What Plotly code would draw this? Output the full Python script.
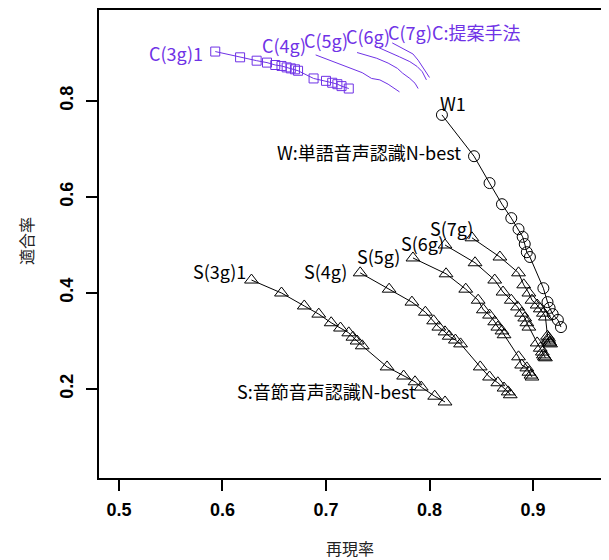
import plotly.graph_objects as go

# ---- data (recall, precision) ----
c3_x = [0.593, 0.617, 0.633, 0.643, 0.651, 0.657, 0.662, 0.666, 0.670, 0.673, 0.688, 0.700, 0.706, 0.711, 0.715, 0.722]
c3_y = [0.903, 0.891, 0.884, 0.880, 0.875, 0.873, 0.870, 0.868, 0.866, 0.863, 0.847, 0.842, 0.838, 0.835, 0.831, 0.826]
c4_x = [0.690, 0.707, 0.723, 0.735, 0.744, 0.752, 0.760, 0.767, 0.771]
c4_y = [0.896, 0.882, 0.868, 0.859, 0.847, 0.844, 0.835, 0.824, 0.819]
c5_x = [0.730, 0.749, 0.760, 0.769, 0.774, 0.781, 0.786, 0.789]
c5_y = [0.901, 0.889, 0.879, 0.868, 0.858, 0.847, 0.837, 0.826]
c6_x = [0.749, 0.760, 0.771, 0.781, 0.788, 0.793, 0.797]
c6_y = [0.913, 0.903, 0.892, 0.882, 0.872, 0.861, 0.844]
c7_x = [0.764, 0.774, 0.784, 0.789, 0.793, 0.798, 0.800]
c7_y = [0.921, 0.910, 0.898, 0.885, 0.872, 0.858, 0.849]

w_x = [0.812, 0.843, 0.858, 0.870, 0.879, 0.886, 0.890, 0.892, 0.894, 0.897, 0.910, 0.914, 0.916, 0.919, 0.924, 0.927]
w_y = [0.771, 0.685, 0.629, 0.585, 0.556, 0.533, 0.517, 0.502, 0.485, 0.475, 0.410, 0.381, 0.369, 0.356, 0.344, 0.329]

s3_x = [0.628, 0.657, 0.679, 0.693, 0.705, 0.714, 0.722, 0.726, 0.730, 0.735, 0.759, 0.775, 0.786, 0.792, 0.805, 0.815]
s3_y = [0.427, 0.400, 0.373, 0.356, 0.338, 0.327, 0.317, 0.308, 0.300, 0.290, 0.246, 0.227, 0.215, 0.204, 0.185, 0.173]
s4_x = [0.733, 0.761, 0.783, 0.796, 0.804, 0.809, 0.815, 0.819, 0.825, 0.830, 0.849, 0.858, 0.866, 0.872, 0.876, 0.878]
s4_y = [0.442, 0.408, 0.381, 0.360, 0.342, 0.329, 0.319, 0.310, 0.302, 0.294, 0.246, 0.225, 0.213, 0.202, 0.194, 0.188]
s5_x = [0.784, 0.816, 0.835, 0.847, 0.852, 0.858, 0.863, 0.866, 0.870, 0.872, 0.886, 0.889, 0.894, 0.896, 0.898, 0.899]
s5_y = [0.473, 0.440, 0.408, 0.385, 0.365, 0.354, 0.340, 0.329, 0.321, 0.313, 0.267, 0.250, 0.244, 0.235, 0.229, 0.225]
s6_x = [0.815, 0.844, 0.863, 0.871, 0.879, 0.885, 0.889, 0.892, 0.894, 0.896, 0.904, 0.907, 0.909, 0.910, 0.911, 0.912]
s6_y = [0.500, 0.463, 0.427, 0.402, 0.385, 0.371, 0.358, 0.348, 0.338, 0.329, 0.296, 0.285, 0.277, 0.271, 0.267, 0.265]
s7_x = [0.841, 0.868, 0.886, 0.891, 0.896, 0.899, 0.904, 0.907, 0.910, 0.912, 0.914, 0.915, 0.915, 0.916, 0.916, 0.917]
s7_y = [0.515, 0.475, 0.442, 0.417, 0.400, 0.385, 0.375, 0.367, 0.358, 0.350, 0.310, 0.306, 0.302, 0.298, 0.296, 0.294]

x_ticks = [0.5, 0.6, 0.7, 0.8, 0.9]
y_ticks = [0.2, 0.4, 0.6, 0.8]

PURPLE = "#6f32e6"
BLACK = "#000000"
FONT = "Noto Sans CJK JP"

fig = go.Figure()

def add_series(x, y, color, symbol=None, size=9):
    mode = "lines+markers" if symbol else "lines"
    fig.add_trace(go.Scatter(
        x=x, y=y, mode=mode,
        line=dict(color=color, width=1),
        marker=dict(symbol=symbol, size=size, color=color, line=dict(width=1, color=color)) if symbol else None,
        showlegend=False, hoverinfo="skip"))

add_series(c3_x, c3_y, PURPLE, "square-open", 9)
for cx, cy in [(c4_x, c4_y), (c5_x, c5_y), (c6_x, c6_y), (c7_x, c7_y)]:
    add_series(cx, cy, PURPLE)
add_series(w_x, w_y, BLACK, "circle-open", 11)
for sx, sy in [(s3_x, s3_y), (s4_x, s4_y), (s5_x, s5_y), (s6_x, s6_y), (s7_x, s7_y)]:
    add_series(sx, sy, BLACK, "triangle-up-open", 12)

def label(text, x, y, color, anchor="right"):
    fig.add_annotation(x=x, y=y, text=text, showarrow=False, xanchor=anchor, yanchor="middle",
                       font=dict(family=FONT, size=18, color=color))

label("C(3g)1", 0.583, 0.900, PURPLE)
label("C(4g)", 0.6826, 0.9167, PURPLE)
label("C(5g)", 0.7232, 0.9271, PURPLE)
label("C(6g)", 0.7638, 0.9354, PURPLE)
label("C(7g)", 0.8043, 0.9438, PURPLE)
label("C:提案手法", 0.8005, 0.9438, PURPLE, "left")
label("W1", 0.8227, 0.7958, BLACK, "center")
label("W:単語音声認識N-best", 0.8324, 0.6938, BLACK)
label("S(3g)1", 0.6246, 0.4458, BLACK)
label("S(4g)", 0.7223, 0.4458, BLACK)
label("S(5g)", 0.7731, 0.4771, BLACK)
label("S(6g)", 0.8159, 0.5042, BLACK)
label("S(7g)", 0.8440, 0.5354, BLACK)
label("S:音節音声認識N-best", 0.7889, 0.1958, BLACK)

# axis titles
fig.add_annotation(x=0.5, y=0, xref="paper", yref="paper", text="再現率", showarrow=False,
                   xanchor="center", yanchor="middle", yshift=-70, xshift=-4,
                   font=dict(family=FONT, size=16, color="#222"))
fig.add_annotation(x=0, y=0.5, xref="paper", yref="paper", text="適合率", showarrow=False,
                   xanchor="center", yanchor="middle", xshift=-73, yshift=3, textangle=-90,
                   font=dict(family=FONT, size=16, color="#222"))

fig.update_layout(
    width=601, height=552,
    margin=dict(l=91, r=0, t=2, b=82),
    plot_bgcolor="white", paper_bgcolor="white",
    xaxis=dict(range=[0.4807, 0.9734], tickvals=x_ticks, ticktext=[f"{v:.1f}" for v in x_ticks],
               showgrid=False, zeroline=False, showline=True, linecolor="black", linewidth=2,
               mirror=True, ticks="outside", ticklen=11, tickwidth=1.5, tickcolor="black",
               ticklabelstandoff=3,
               tickfont=dict(family="Liberation Sans", size=18, color="black", weight="bold")),
    yaxis=dict(range=[0.01458, 0.98958], tickvals=y_ticks, ticktext=[f"{v:.1f}" for v in y_ticks],
               showgrid=False, zeroline=False, showline=True, linecolor="black", linewidth=2,
               mirror=False, ticks="outside", ticklen=11, tickwidth=1.5, tickcolor="black",
               tickangle=-90, ticklabelstandoff=6,
               tickfont=dict(family="Liberation Sans", size=18, color="black", weight="bold")),
)

fig.write_html("out.html")
